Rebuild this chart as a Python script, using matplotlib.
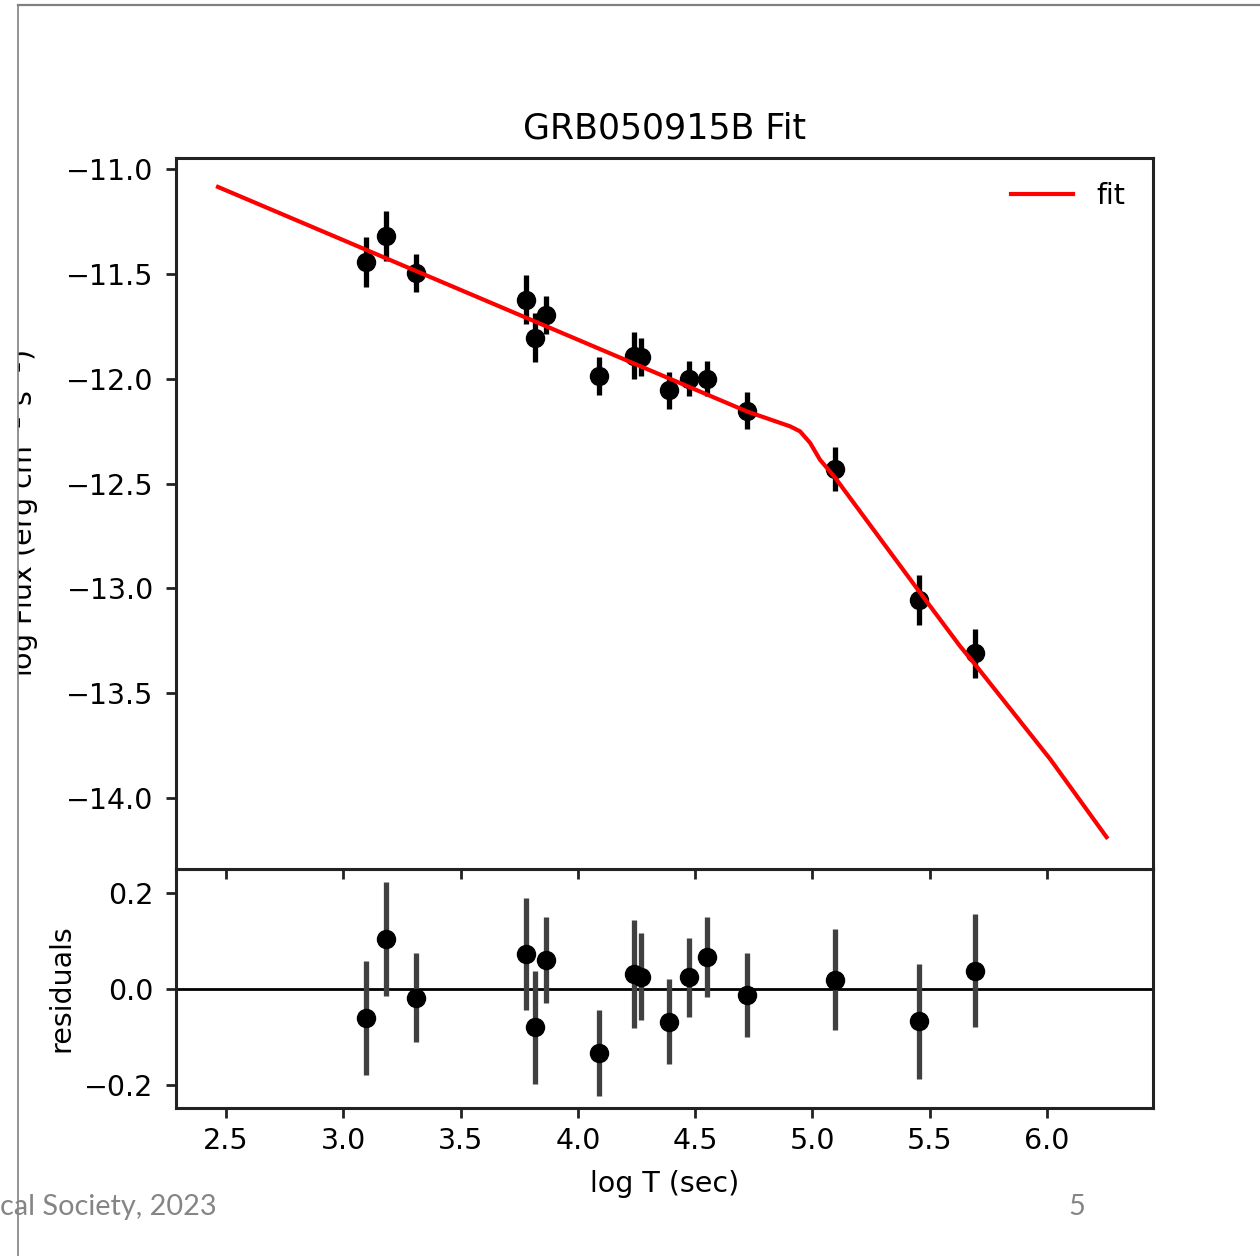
import numpy as np
import matplotlib
matplotlib.use("Agg")
import matplotlib.pyplot as plt
from matplotlib.patches import Rectangle
from matplotlib.lines import Line2D

# light curve points (log T, log flux) with 1-sigma errors
log_t = [3.097, 3.182, 3.310, 3.779, 3.817, 3.866, 4.092, 4.240, 4.268,
         4.388, 4.474, 4.550, 4.720, 5.096, 5.454, 5.693]
log_flux = [-11.443, -11.319, -11.497, -11.624, -11.806, -11.695, -11.988, -11.890, -11.898,
            -12.056, -12.000, -12.000, -12.154, -12.433, -13.057, -13.310]
flux_err = [0.119, 0.119, 0.092, 0.117, 0.117, 0.090, 0.090, 0.112, 0.090,
            0.088, 0.083, 0.083, 0.088, 0.105, 0.120, 0.118]

# residuals of the fit at each point
resid = [-0.061, 0.104, -0.018, 0.073, -0.080, 0.060, -0.134, 0.031, 0.026,
         -0.068, 0.024, 0.066, -0.013, 0.019, -0.067, 0.038]

# broken power law model
fit_logt = [2.466, 4.720, 4.904, 4.947, 4.990, 5.032, 5.096, 5.458, 5.629, 5.693, 6.015, 6.254]
fit_logf = [-11.086, -12.156, -12.227, -12.251, -12.306, -12.386, -12.471, -13.019, -13.275,
            -13.362, -13.816, -14.186]

flux_ticks = [-14.0, -13.5, -13.0, -12.5, -12.0, -11.5, -11.0]
res_ticks = [-0.2, 0.0, 0.2]
t_ticks = [2.5, 3.0, 3.5, 4.0, 4.5, 5.0, 5.5, 6.0]

W, H = 1260, 1256
fig = plt.figure(figsize=(W / 100, H / 100), dpi=100)
fs = 20.5

ax = fig.add_axes([176 / W, 1 - 869 / H, 977 / W, 711 / H])
axr = fig.add_axes([176 / W, 1 - 1108 / H, 977 / W, 239 / H])
ax.set_zorder(2)

ax.plot(fit_logt, fit_logf, color="red", lw=3, label="fit", zorder=3)
ax.errorbar(log_t, log_flux, yerr=flux_err, fmt="o", color="black", ms=13,
            elinewidth=3.8, capsize=0, zorder=2)
ax.set_xlim(2.287, 6.452)
ax.set_ylim(-14.338, -10.948)
ax.set_yticks(flux_ticks)
ax.set_xticks(t_ticks)
ax.tick_params(axis="x", labelbottom=False)
ax.set_title("GRB050915B Fit", fontsize=25, pad=14)
ax.set_ylabel(r"log Flux (erg cm$^{-2}$ s$^{-1}$)", fontsize=fs)
ax.yaxis.set_label_coords(-0.138, 0.5)
ax.legend(loc="upper right", frameon=False, fontsize=fs, handlelength=2.2,
          borderaxespad=0.58, bbox_to_anchor=(1.0, 1.006))

axr.axhline(0, color="black", lw=2)
axr.errorbar(log_t, resid, yerr=flux_err, fmt="o", color="black", ecolor="#404040",
             ms=13, elinewidth=3.8, capsize=0)
axr.set_xlim(2.287, 6.452)
axr.set_ylim(-0.248, 0.25)
axr.set_yticks(res_ticks)
axr.set_xticks(t_ticks)
axr.set_xlabel("log T (sec)", fontsize=fs, labelpad=10.5)
axr.set_ylabel("residuals", fontsize=fs)
axr.yaxis.set_label_coords(-0.103, 0.5)

for a in (ax, axr):
    for s in a.spines.values():
        s.set_linewidth(2.2)
        s.set_color("#222222")
    a.tick_params(labelsize=fs, length=7, width=2, color="#222222")
    a.tick_params(axis="y", pad=9)
    a.tick_params(axis="x", pad=7)

# slide frame and footer
fig.patches.append(Rectangle((0, 0), 18 / W, 1, transform=fig.transFigure,
                             facecolor="white", edgecolor="none", zorder=10))
fig.lines.append(Line2D([18 / W, 18 / W], [0, 1 - 5 / H], transform=fig.transFigure,
                        color="#808080", lw=1.2, zorder=11))
fig.lines.append(Line2D([18 / W, 1], [1 - 5 / H, 1 - 5 / H], transform=fig.transFigure,
                        color="#808080", lw=1.6, zorder=11))
fig.text(0 / W, 1 - 1207 / H, "cal Society, 2023", fontsize=20.8, family="Lato",
         color="#858585", ha="left", va="center", zorder=12)
fig.text(1077 / W, 1 - 1207 / H, "5", fontsize=20.8, family="Lato",
         color="#858585", ha="center", va="center", zorder=12)

fig.savefig("out.png", dpi=100)
